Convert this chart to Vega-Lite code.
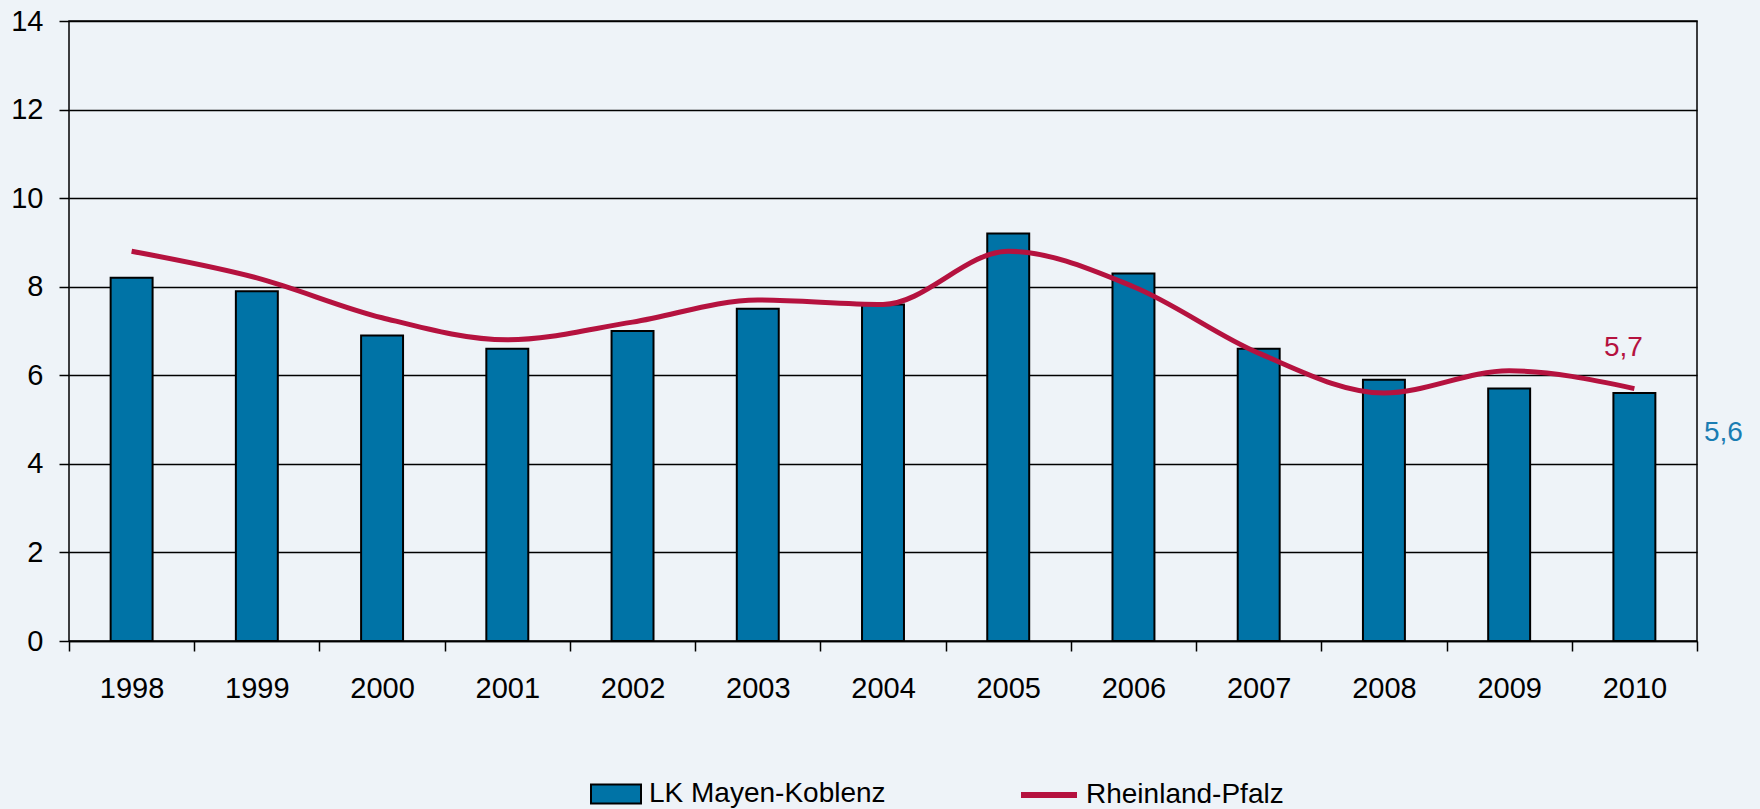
{
  "$schema": "https://vega.github.io/schema/vega-lite/v6.json",
  "autosize": {"type": "none"},
  "width": 1628,
  "height": 620,
  "padding": {"left": 69, "top": 21, "right": 63, "bottom": 168},
  "background": "#eef3f8",
  "config": {
    "view": {"stroke": "#000000", "strokeWidth": 1.5},
    "font": "Liberation Sans"
  },
  "data": {
    "values": [
      {"year": "1998", "series": "LK Mayen-Koblenz", "value": 8.2},
      {"year": "1999", "series": "LK Mayen-Koblenz", "value": 7.9},
      {"year": "2000", "series": "LK Mayen-Koblenz", "value": 6.9},
      {"year": "2001", "series": "LK Mayen-Koblenz", "value": 6.6},
      {"year": "2002", "series": "LK Mayen-Koblenz", "value": 7.0},
      {"year": "2003", "series": "LK Mayen-Koblenz", "value": 7.5},
      {"year": "2004", "series": "LK Mayen-Koblenz", "value": 7.6},
      {"year": "2005", "series": "LK Mayen-Koblenz", "value": 9.2},
      {"year": "2006", "series": "LK Mayen-Koblenz", "value": 8.3},
      {"year": "2007", "series": "LK Mayen-Koblenz", "value": 6.6},
      {"year": "2008", "series": "LK Mayen-Koblenz", "value": 5.9},
      {"year": "2009", "series": "LK Mayen-Koblenz", "value": 5.7},
      {"year": "2010", "series": "LK Mayen-Koblenz", "value": 5.6},
      {"year": "1998", "series": "Rheinland-Pfalz", "value": 8.8},
      {"year": "1999", "series": "Rheinland-Pfalz", "value": 8.2},
      {"year": "2000", "series": "Rheinland-Pfalz", "value": 7.3},
      {"year": "2001", "series": "Rheinland-Pfalz", "value": 6.8},
      {"year": "2002", "series": "Rheinland-Pfalz", "value": 7.2},
      {"year": "2003", "series": "Rheinland-Pfalz", "value": 7.7},
      {"year": "2004", "series": "Rheinland-Pfalz", "value": 7.6},
      {"year": "2005", "series": "Rheinland-Pfalz", "value": 8.8},
      {"year": "2006", "series": "Rheinland-Pfalz", "value": 8.0},
      {"year": "2007", "series": "Rheinland-Pfalz", "value": 6.5},
      {"year": "2008", "series": "Rheinland-Pfalz", "value": 5.6},
      {"year": "2009", "series": "Rheinland-Pfalz", "value": 6.1},
      {"year": "2010", "series": "Rheinland-Pfalz", "value": 5.7}
    ]
  },
  "encoding": {
    "x": {
      "field": "year",
      "type": "ordinal",
      "title": null,
      "scale": {"paddingInner": 0, "paddingOuter": 0},
      "axis": {
        "labelAngle": 0,
        "labelFontSize": 29,
        "labelColor": "#000000",
        "labelPadding": 23,
        "tickBand": "extent",
        "tickSize": 10,
        "tickColor": "#000000",
        "tickWidth": 1.5,
        "domainColor": "#000000",
        "domainWidth": 1.5,
        "grid": false
      }
    },
    "y": {
      "field": "value",
      "type": "quantitative",
      "title": null,
      "scale": {"domain": [0, 14], "nice": false},
      "axis": {
        "values": [0, 2, 4, 6, 8, 10, 12, 14],
        "labelFontSize": 29,
        "labelColor": "#000000",
        "labelPadding": 16,
        "tickSize": 10,
        "tickColor": "#000000",
        "tickWidth": 1.5,
        "domain": false,
        "grid": true,
        "gridColor": "#000000",
        "gridWidth": 1.5,
        "gridOpacity": 1
      }
    }
  },
  "layer": [
    {
      "transform": [{"filter": "datum.series === 'LK Mayen-Koblenz'"}],
      "mark": {"type": "bar", "stroke": "#000000", "strokeWidth": 2, "opacity": 1, "width": {"band": 0.335}},
      "encoding": {
        "fill": {
          "field": "series",
          "type": "nominal",
          "title": null,
          "scale": {"domain": ["LK Mayen-Koblenz"], "range": ["#0073a6"]},
          "legend": {
            "orient": "none",
            "legendX": 521,
            "legendY": 747,
            "symbolType": "M-1,-0.38h2v0.76h-2z",
            "symbolSize": 2500,
            "symbolStrokeColor": "#000000",
            "symbolStrokeWidth": 2,
            "symbolOpacity": 1,
            "labelFont": "Liberation Sans",
            "labelFontSize": 28,
            "labelColor": "#000000",
            "labelOffset": 7,
            "labelLimit": 400
          }
        }
      }
    },
    {
      "transform": [{"filter": "datum.series === 'Rheinland-Pfalz'"}],
      "mark": {"type": "line", "strokeWidth": 5, "interpolate": "monotone"},
      "encoding": {
        "stroke": {
          "field": "series",
          "type": "nominal",
          "title": null,
          "scale": {"domain": ["Rheinland-Pfalz"], "range": ["#b5123f"]},
          "legend": {
            "orient": "none",
            "legendX": 949,
            "legendY": 743,
            "symbolType": "stroke",
            "symbolSize": 3136,
            "symbolStrokeWidth": 6,
            "labelFont": "Liberation Sans",
            "labelFontSize": 28,
            "labelColor": "#000000",
            "labelOffset": 6,
            "labelLimit": 400
          }
        }
      }
    },
    {
      "transform": [
        {"filter": "datum.series === 'Rheinland-Pfalz' && datum.year === '2010'"},
        {"calculate": "replace(format(datum.value, '.1f'), '.', ',')", "as": "label"}
      ],
      "mark": {"type": "text", "dx": -11, "dy": -41, "fontSize": 28, "fill": "#b5123f"},
      "encoding": {
        "text": {"field": "label", "type": "nominal"}
      }
    },
    {
      "transform": [
        {"filter": "datum.series === 'LK Mayen-Koblenz' && datum.year === '2010'"},
        {"calculate": "replace(format(datum.value, '.1f'), '.', ',')", "as": "label"}
      ],
      "mark": {"type": "text", "dx": 89, "dy": 40, "fontSize": 28, "fill": "#1a7db3"},
      "encoding": {
        "text": {"field": "label", "type": "nominal"}
      }
    }
  ]
}
